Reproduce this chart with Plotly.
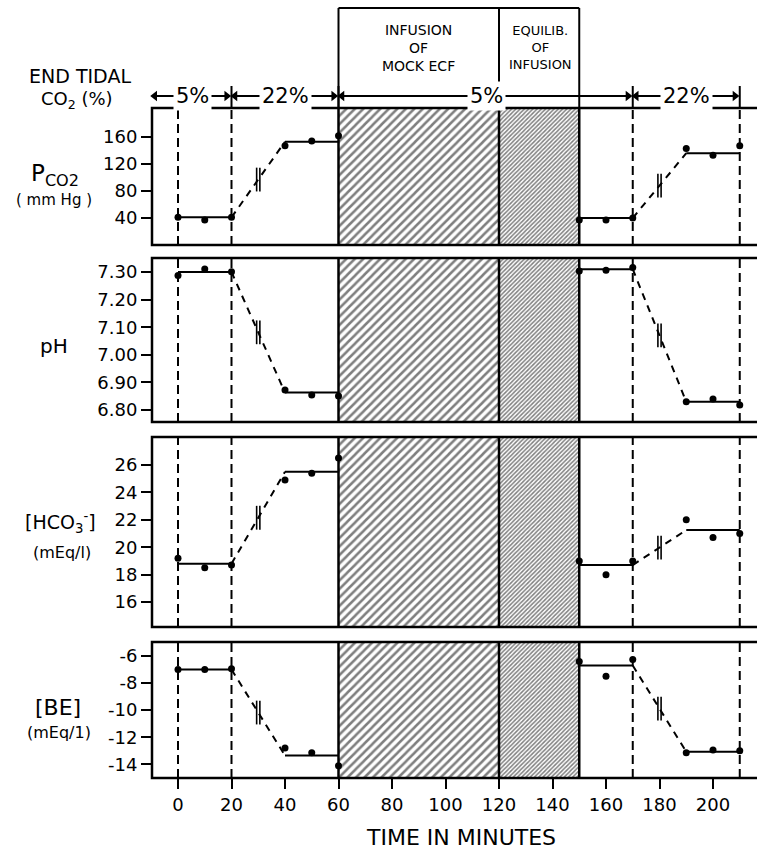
import plotly.graph_objects as go

# ---------------- data ----------------
time_min = [0, 10, 20, 40, 50, 60, 150, 160, 170, 190, 200, 210]
pco2 = [41, 37, 41, 147, 154, 162, 37, 37, 40, 143, 133, 147]
ph = [7.287, 7.311, 7.301, 6.872, 6.854, 6.851, 7.304, 7.306, 7.316, 6.830, 6.840, 6.818]
hco3 = [19.2, 18.5, 18.7, 24.9, 25.4, 26.5, 19.0, 18.0, 19.0, 22.0, 20.7, 21.0]
be = [-7.0, -7.0, -6.95, -12.8, -13.15, -14.1, -6.4, -7.5, -6.25, -13.15, -12.95, -13.0]

# fitted step levels: [0-20, 40-60, 150-170, 190-210]
fit_times = [0, 20, 40, 60, 150, 170, 190, 210]
pco2_fit = [41, 153, 40, 136]
ph_fit = [7.30, 6.863, 7.31, 6.83]
hco3_fit = [18.8, 25.5, 18.7, 21.25]
be_fit = [-7.0, -13.35, -6.7, -13.07]

# protocol phases
phase_bounds = [-10, 20, 60, 170, 210]
phase_labels = ["5%", "22%", "5%", "22%"]
infusion_span = [60, 120]
equilib_span = [120, 150]
lines_dashed_t = [0, 20, 170, 210]

x_ticks = [0, 20, 40, 60, 80, 100, 120, 140, 160, 180, 200]
pco2_ticks = [40, 80, 120, 160]
ph_ticks = [6.80, 6.90, 7.00, 7.10, 7.20, 7.30]
ph_ticktext = ["6.80", "6.90", "7.00", "7.10", "7.20", "7.30"]
hco3_ticks = [16, 18, 20, 22, 24, 26]
be_ticks = [-14, -12, -10, -8, -6]

# ---------------- layout helpers ----------------
W, H = 757, 849
FONT = "DejaVu Sans"


def px(xp):
    return xp / W


def py(yp):
    return 1 - yp / H


X_LEFT, X_ZERO, PPM = 152, 178, 2.675
x_range = [(X_LEFT - X_ZERO) / PPM, (W - X_ZERO) / PPM]

panel_top = [108, 258, 437, 642]
panel_bot = [245, 422, 627, 778]
y_ranges = [[0, 203], [6.7565, 7.3507], [14.18, 28.04], [-15.01, -4.966]]

panels = [
    dict(y=pco2, fit=pco2_fit, ticks=pco2_ticks, ticktext=[str(v) for v in pco2_ticks]),
    dict(y=ph, fit=ph_fit, ticks=ph_ticks, ticktext=ph_ticktext),
    dict(y=hco3, fit=hco3_fit, ticks=hco3_ticks, ticktext=[str(v) for v in hco3_ticks]),
    dict(y=be, fit=be_fit, ticks=be_ticks, ticktext=[str(v) for v in be_ticks]),
]

fig = go.Figure()
shapes = []
annotations = []


def ann(**kw):
    base = dict(showarrow=False, xanchor="center", yanchor="middle")
    base.update(kw)
    annotations.append(base)


for i, p in enumerate(panels):
    yname = "y" if i == 0 else f"y{i+1}"
    lo, hi = y_ranges[i]
    # hatched regions
    for span, size, sol in [(infusion_span, 6, 0.42), (equilib_span, 3, 0.5)]:
        fig.add_trace(go.Scatter(
            x=[span[0], span[1], span[1], span[0], span[0]],
            y=[lo, lo, hi, hi, lo], yaxis=yname, xaxis="x",
            mode="lines", line=dict(width=0), fill="toself",
            fillcolor="white",
            fillpattern=dict(shape="/", size=size, solidity=sol,
                             fgcolor="black", bgcolor="white"),
            hoverinfo="skip"))
    f = p["fit"]
    t = fit_times
    # solid plateaus
    for k in range(4):
        fig.add_trace(go.Scatter(
            x=[t[2 * k], t[2 * k + 1]], y=[f[k], f[k]], yaxis=yname, xaxis="x",
            mode="lines", line=dict(color="black", width=2), hoverinfo="skip"))
    # dashed transitions with break marks
    for k in (0, 2):
        fig.add_trace(go.Scatter(
            x=[t[2 * k + 1], t[2 * k + 2]], y=[f[k], f[k + 1]], yaxis=yname, xaxis="x",
            mode="lines", line=dict(color="black", width=2, dash="7px,6px"),
            hoverinfo="skip"))
        xm = (t[2 * k + 1] + t[2 * k + 2]) / 2
        ym = (f[k] + f[k + 1]) / 2
        fig.add_trace(go.Scatter(
            x=[xm - 0.6, xm + 0.6], y=[ym, ym], yaxis=yname, xaxis="x",
            mode="markers",
            marker=dict(symbol="line-ns", size=17, color="black",
                        line=dict(color="black", width=1.6)),
            hoverinfo="skip"))
    # data points
    fig.add_trace(go.Scatter(
        x=time_min, y=p["y"], yaxis=yname, xaxis="x", mode="markers",
        marker=dict(color="black", size=7), cliponaxis=False, hoverinfo="skip"))

    y0p, y1p = py(panel_bot[i]), py(panel_top[i])
    fig.layout[f"yaxis{'' if i == 0 else i+1}"] = dict(
        domain=[y0p, y1p], range=[lo, hi], anchor="x",
        tickvals=p["ticks"], ticktext=p["ticktext"],
        ticks="outside", ticklen=10, tickwidth=2, tickcolor="black",
        showgrid=False, zeroline=False, showline=False,
        tickfont=dict(family=FONT, size=18, color="black"))
    # panel border
    shapes.append(dict(type="rect", xref="paper", yref="paper",
                       x0=px(X_LEFT), x1=1.02, y0=y0p, y1=y1p,
                       line=dict(color="black", width=2.5)))
    # solid verticals of infusion blocks
    for tv in (infusion_span[0], infusion_span[1], equilib_span[1]):
        shapes.append(dict(type="line", xref="x", yref="paper", x0=tv, x1=tv,
                           y0=y0p, y1=y1p, line=dict(color="black", width=2.5)))
    # dashed verticals
    for tv in lines_dashed_t:
        shapes.append(dict(type="line", xref="x", yref="paper", x0=tv, x1=tv,
                           y0=y0p, y1=y1p,
                           line=dict(color="black", width=2, dash="9px,5px")))

# ---------------- header ----------------
HB_TOP, ARROW_ROW, SEP_TOP = 8, 96, 86
for tv in (infusion_span[0], infusion_span[1], equilib_span[1]):
    shapes.append(dict(type="line", xref="x", yref="paper", x0=tv, x1=tv,
                       y0=py(panel_top[0]), y1=py(HB_TOP),
                       line=dict(color="black", width=2)))
shapes.append(dict(type="line", xref="x", yref="paper", x0=infusion_span[0],
                   x1=equilib_span[1], y0=py(HB_TOP), y1=py(HB_TOP),
                   line=dict(color="black", width=2)))
ann(x=sum(infusion_span) / 2, y=py(48), xref="x", yref="paper",
    text="INFUSION<br>OF<br>MOCK ECF", font=dict(family=FONT, size=14, color="black"))
ann(x=sum(equilib_span) / 2 + 0.5, y=py(48), xref="x", yref="paper",
    text="EQUILIB.<br>OF<br>INFUSION", font=dict(family=FONT, size=13, color="black"))

for b in phase_bounds[1:]:
    shapes.append(dict(type="line", xref="x", yref="paper", x0=b, x1=b,
                       y0=py(panel_top[0]), y1=py(SEP_TOP),
                       line=dict(color="black", width=2)))
for k, lab in enumerate(phase_labels):
    a, b = phase_bounds[k] + 1.3, phase_bounds[k + 1] - 1.8
    fig.add_trace(go.Scatter(
        x=[a, b], y=[ARROW_ROW, ARROW_ROW], xaxis="x", yaxis="y5", mode="lines",
        line=dict(color="black", width=1.8), hoverinfo="skip"))
    fig.add_trace(go.Scatter(
        x=[a, b], y=[ARROW_ROW, ARROW_ROW], xaxis="x", yaxis="y5", mode="markers",
        marker=dict(color="black", size=9, symbol=["triangle-left", "triangle-right"]),
        cliponaxis=False, hoverinfo="skip"))
    ann(x=(a + b) / 2 + 0.5, y=py(ARROW_ROW), xref="x", yref="paper",
        text=lab, bgcolor="white", borderpad=2,
        font=dict(family=FONT, size=21, color="black"))

# left labels
left_labels = [
    ("END TIDAL", 80, 76, 19),
    ("CO<sub>2</sub> (%)", 77, 100, 18),
    ("P<sub>CO2</sub>", 55, 175, 23),
    ("( mm Hg )", 54, 200, 15),
    ("pH", 54, 346, 20),
    ("[HCO<sub>3</sub><sup>-</sup>]", 60, 522, 19),
    ("(mEq/l)", 62, 552, 16),
    ("[BE]", 58, 707, 22),
    ("(mEq/1)", 59, 732, 16),
    ("TIME IN MINUTES", 461, 837, 22),
]
for txt, cx, cy, fs in left_labels:
    ann(x=px(cx), y=py(cy), xref="paper", yref="paper", text=txt,
        font=dict(family=FONT, size=fs, color="black"))

fig.update_layout(
    width=W, height=H, margin=dict(l=0, r=0, t=0, b=0),
    paper_bgcolor="white", plot_bgcolor="white", showlegend=False,
    xaxis=dict(domain=[px(X_LEFT), 1.0], range=x_range, anchor="y4",
               tickvals=x_ticks, ticks="outside", ticklen=10, tickwidth=2,
               tickcolor="black", showgrid=False, zeroline=False, showline=False,
               tickfont=dict(family=FONT, size=18, color="black")),
    yaxis5=dict(domain=[py(panel_top[0]), 1.0], range=[panel_top[0], 0],
                anchor="x", visible=False, showgrid=False, zeroline=False),
    shapes=shapes, annotations=annotations,
)

fig.write_html("out.html", config={"displayModeBar": False},
               post_script="document.body.style.margin='0';")
